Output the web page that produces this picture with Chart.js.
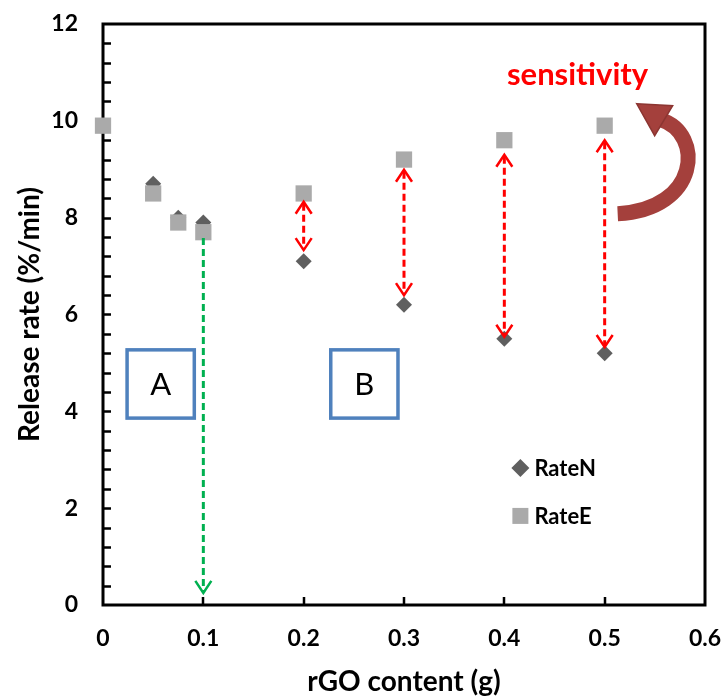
<!DOCTYPE html>
<html>
<head>
<meta charset="utf-8">
<script src="https://cdn.jsdelivr.net/npm/chart.js@4/dist/chart.umd.min.js"></script>
<style>
  body { margin: 0; background: #fff; }
</style>
</head>
<body>
<canvas id="chart" width="726" height="700"></canvas>
<script>
// data
const xN = [0.05, 0.075, 0.1, 0.2, 0.3, 0.4, 0.5];
const rateN = [8.7, 8.0, 7.9, 7.1, 6.2, 5.5, 5.2];
const xE = [0, 0.05, 0.075, 0.1, 0.2, 0.3, 0.4, 0.5];
const rateE = [9.9, 8.5, 7.9, 7.7, 8.5, 9.2, 9.6, 9.9];
const xTicks = ["0", "0.1", "0.2", "0.3", "0.4", "0.5", "0.6"];
const yTicks = ["0", "2", "4", "6", "8", "10", "12"];
const seriesNames = ["RateN", "RateE"];

// sensitivity arrows: [x, top, bottom]
const redArrows = [[0.2, 8.33, 7.33], [0.3, 8.99, 6.4], [0.4, 9.3, 5.54], [0.5, 9.6, 5.33]];
const greenArrow = [0.1, 7.58, 0.25];
const boxes = [["A", 0.024, 0.091], ["B", 0.227, 0.294]];

const FONT = "Lato, 'Open Sans', sans-serif";
const colN = "#5f5f5f";
const colE = "#aaaaaa";

function pts(xs, ys) {
  return xs.map((x, i) => ({ x: x, y: ys[i] }));
}

function dashedArrow(ctx, x, y1, y2, color, both) {
  ctx.save();
  ctx.strokeStyle = color;
  ctx.lineWidth = 3;
  ctx.setLineDash([7, 4]);
  ctx.beginPath();
  ctx.moveTo(x, y1 + (both ? 2 : 0));
  ctx.lineTo(x, y2 - 2);
  ctx.stroke();
  ctx.setLineDash([]);
  ctx.lineWidth = 2.5;
  ctx.beginPath();
  ctx.moveTo(x - 8, y2 - 12);
  ctx.lineTo(x, y2);
  ctx.lineTo(x + 8, y2 - 12);
  if (both) {
    ctx.moveTo(x - 8, y1 + 12);
    ctx.lineTo(x, y1);
    ctx.lineTo(x + 8, y1 + 12);
  }
  ctx.stroke();
  ctx.restore();
}

const extras = {
  id: "extras",
  beforeDatasetsDraw(chart) {
    const ctx = chart.ctx;
    const xs = chart.scales.x, ys = chart.scales.y;
    const a = chart.chartArea;
    // frame
    ctx.save();
    ctx.strokeStyle = "#000";
    ctx.lineWidth = 3;
    ctx.strokeRect(a.left, a.top, a.right - a.left, a.bottom - a.top);
    // inner ticks
    ctx.lineWidth = 2.5;
    ctx.beginPath();
    for (let v = 0.4; v < 12; v += 0.4) {
      const y = Math.round(ys.getPixelForValue(v)) + 0.5;
      ctx.moveTo(a.left, y);
      ctx.lineTo(a.left + 8, y);
    }
    for (let i = 1; i < xTicks.length - 1; i++) {
      const x = Math.round(xs.getPixelForValue(i / 10));
      ctx.moveTo(x, a.bottom);
      ctx.lineTo(x, a.bottom - 8);
    }
    ctx.stroke();
    ctx.restore();
  },
  afterDatasetsDraw(chart) {
    const ctx = chart.ctx;
    const xs = chart.scales.x, ys = chart.scales.y;
    const px = v => xs.getPixelForValue(v);
    const py = v => ys.getPixelForValue(v);

    // A / B boxes
    ctx.save();
    boxes.forEach(b => {
      const x1 = px(b[1]), x2 = px(b[2]);
      const y1 = py(5.27), y2 = py(3.86);
      ctx.strokeStyle = "#4f81bd";
      ctx.lineWidth = 3.5;
      ctx.fillStyle = "#fff";
      ctx.fillRect(x1, y1, x2 - x1, y2 - y1);
      ctx.strokeRect(x1, y1, x2 - x1, y2 - y1);
      ctx.fillStyle = "#000";
      ctx.font = "31px " + FONT;
      ctx.textAlign = "center";
      ctx.textBaseline = "middle";
      ctx.fillText(b[0], (x1 + x2) / 2, (y1 + y2) / 2 + 1);
    });
    ctx.restore();

    // arrows
    dashedArrow(ctx, px(greenArrow[0]), py(greenArrow[1]), py(greenArrow[2]), "#00b050", false);
    redArrows.forEach(r => dashedArrow(ctx, px(r[0]), py(r[1]), py(r[2]), "#ff0000", true));

    // sensitivity label
    ctx.save();
    ctx.fillStyle = "#ff0000";
    ctx.font = "bold 31px " + FONT;
    ctx.textAlign = "center";
    ctx.textBaseline = "middle";
    ctx.fillText("sensitivity", px(0.473), py(10.95));
    ctx.restore();

    // curved arrow
    const ox = px(0.5), oy = py(9.9);
    ctx.save();
    ctx.translate(ox, oy);
    ctx.strokeStyle = "#a4403c";
    ctx.lineWidth = 15;
    ctx.beginPath();
    ctx.moveTo(13, 88);
    ctx.bezierCurveTo(95, 84, 100, 8, 56, -6);
    ctx.stroke();
    ctx.fillStyle = "#a4403c";
    ctx.strokeStyle = "#8c3531";
    ctx.lineWidth = 1.5;
    ctx.beginPath();
    ctx.moveTo(32, -22);
    ctx.lineTo(68, -20);
    ctx.lineTo(50, 10);
    ctx.closePath();
    ctx.fill();
    ctx.stroke();
    ctx.restore();

    // legend
    ctx.save();
    const lx = px(0.416);
    const ly1 = py(2.83), ly2 = py(1.84);
    ctx.fillStyle = colN;
    ctx.beginPath();
    ctx.moveTo(lx, ly1 - 9);
    ctx.lineTo(lx + 9, ly1);
    ctx.lineTo(lx, ly1 + 9);
    ctx.lineTo(lx - 9, ly1);
    ctx.closePath();
    ctx.fill();
    ctx.fillStyle = colE;
    ctx.fillRect(lx - 8, ly2 - 8, 16, 16);
    ctx.fillStyle = "#000";
    ctx.font = "bold 22px " + FONT;
    ctx.textBaseline = "middle";
    ctx.fillText(seriesNames[0], lx + 14, ly1 + 1);
    ctx.fillText(seriesNames[1], lx + 14, ly2 + 1);
    ctx.restore();
  }
};

const chart = new Chart(document.getElementById("chart"), {
  type: "scatter",
  data: {
    datasets: [
      {
        label: seriesNames[0],
        data: pts(xN, rateN),
        pointStyle: "rectRot",
        pointRadius: 8,
        backgroundColor: colN,
        borderWidth: 0,
        clip: false,
        order: 1
      },
      {
        label: seriesNames[1],
        data: pts(xE, rateE),
        pointStyle: "rect",
        pointRadius: 11.5,
        backgroundColor: colE,
        borderWidth: 0,
        clip: false,
        order: 0
      }
    ]
  },
  options: {
    responsive: false,
    animation: false,
    layout: { padding: { top: 24, right: 21, left: 0, bottom: 0 } },
    plugins: { legend: { display: false }, tooltip: { enabled: false } },
    scales: {
      x: {
        type: "linear",
        min: 0,
        max: 0.6,
        afterFit: s => { s.height = 95; s.paddingLeft = 0; s.paddingRight = 0; },
        grid: { display: false, drawTicks: false },
        border: { display: false },
        ticks: {
          stepSize: 0.1,
          padding: 20,
          color: "#000",
          font: { family: FONT, size: 23, weight: "bold" },
          callback: (v, i) => xTicks[i]
        },
        title: {
          display: true,
          text: "rGO content (g)",
          color: "#000",
          font: { family: FONT, size: 28, weight: "bold" },
          padding: { top: 0, bottom: 1 }
        }
      },
      y: {
        min: 0,
        max: 12,
        afterFit: s => { s.width = 103; s.paddingTop = 0; s.paddingBottom = 0; },
        grid: { display: false, drawTicks: false },
        border: { display: false },
        ticks: {
          stepSize: 2,
          padding: 25,
          color: "#000",
          font: { family: FONT, size: 23, weight: "bold" },
          callback: (v, i) => yTicks[i]
        },
        title: {
          display: true,
          text: "Release rate (%/min)",
          color: "#000",
          font: { family: FONT, size: 28, weight: "bold" },
          padding: { top: 13, bottom: 0 }
        }
      }
    }
  },
  plugins: [extras]
});
</script>
</body>
</html>
